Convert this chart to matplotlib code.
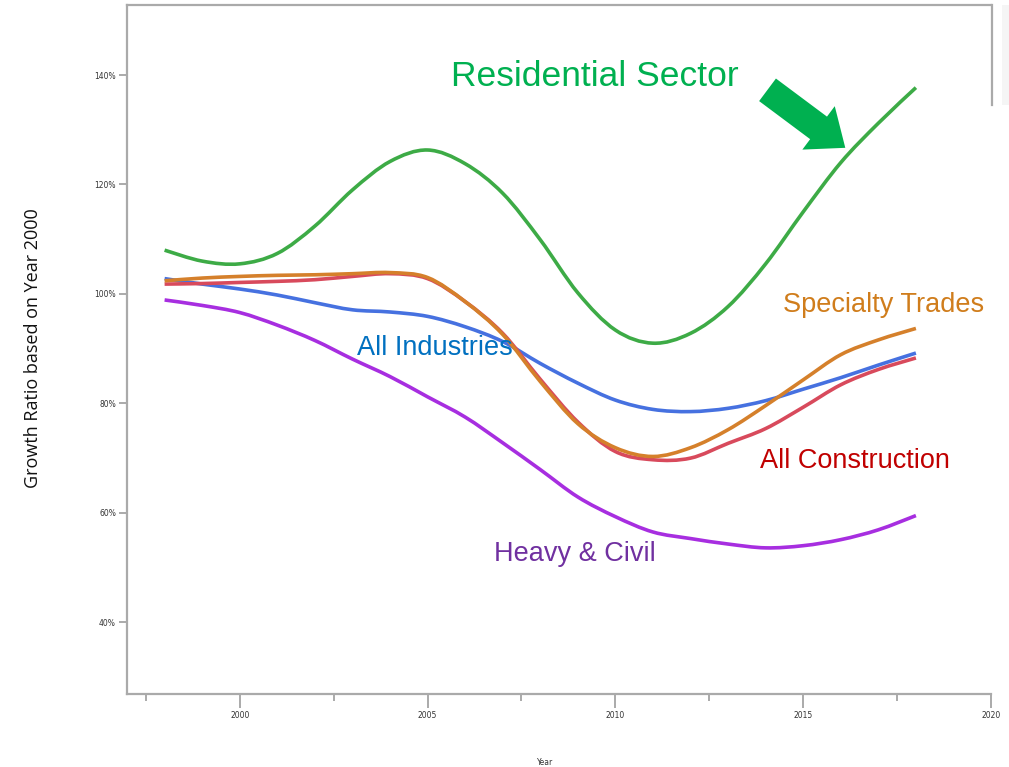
import matplotlib.pyplot as plt
from matplotlib.lines import Line2D
from matplotlib.patches import Rectangle, PathPatch
from matplotlib.path import Path
from matplotlib.ticker import MultipleLocator, FuncFormatter

years = list(range(1998, 2019))

residential = [108.0, 106.0, 105.5, 107.4, 112.4, 119.0, 124.2, 126.3, 123.8, 118.4, 109.9,
               100.2, 93.4, 91.0, 92.8, 97.7, 105.5, 115.0, 124.0, 131.2, 137.7]
specialty = [102.4, 102.9, 103.2, 103.4, 103.5, 103.7, 103.9, 103.0, 98.6, 92.6, 84.0,
             76.3, 71.9, 70.3, 71.9, 75.2, 79.6, 84.3, 88.9, 91.6, 93.7]
construction = [101.8, 101.9, 102.1, 102.3, 102.6, 103.2, 103.7, 102.8, 98.6, 92.8, 84.4,
                76.6, 71.2, 69.7, 70.0, 72.7, 75.4, 79.3, 83.4, 86.2, 88.3]
industries = [102.8, 101.8, 100.9, 99.8, 98.4, 97.1, 96.7, 95.9, 94.0, 91.3, 87.3,
              83.7, 80.6, 78.9, 78.5, 79.1, 80.5, 82.6, 84.7, 87.0, 89.2]
heavy_civil = [98.9, 97.9, 96.6, 94.3, 91.5, 88.1, 84.9, 81.2, 77.5, 72.8, 67.9,
               62.9, 59.3, 56.5, 55.3, 54.3, 53.6, 54.0, 55.1, 56.9, 59.5]


def smooth_line(ax, xs, ys, color):
    # cardinal-spline style path through every point, drawn as cubic beziers
    verts = [(xs[0], ys[0])]
    codes = [Path.MOVETO]
    n = len(xs)
    for i in range(n - 1):
        x0, y0 = xs[max(i - 1, 0)], ys[max(i - 1, 0)]
        x1, y1 = xs[i], ys[i]
        x2, y2 = xs[i + 1], ys[i + 1]
        x3, y3 = xs[min(i + 2, n - 1)], ys[min(i + 2, n - 1)]
        c1 = (x1 + (x2 - x0) / 6, y1 + (y2 - y0) / 6)
        c2 = (x2 - (x3 - x1) / 6, y2 - (y3 - y1) / 6)
        verts += [c1, c2, (x2, y2)]
        codes += [Path.CURVE4] * 3
    ax.add_patch(PathPatch(Path(verts, codes), fill=False, edgecolor=color,
                           lw=2.6, capstyle='butt'))


fig = plt.figure(figsize=(10.09, 7.67), dpi=100)
ax = fig.add_axes([0.1259, 0.0952, 0.8563, 0.8983])

smooth_line(ax, years, residential, '#3dab46')
smooth_line(ax, years, industries, '#4671e0')
smooth_line(ax, years, construction, '#d84a5c')
smooth_line(ax, years, specialty, '#d5802b')
smooth_line(ax, years, heavy_civil, '#a72ee0')

ax.set_xlim(1997, 2020)
ax.set_ylim(26.9, 152.8)

grey = '#aaaaaa'
for s in ['left', 'bottom', 'top']:
    ax.spines[s].set_color(grey)
    ax.spines[s].set_linewidth(1.6)
ax.spines['right'].set_visible(False)

ax.xaxis.set_major_locator(MultipleLocator(5))
ax.xaxis.set_minor_locator(MultipleLocator(2.5))
ax.yaxis.set_major_locator(MultipleLocator(20))
ax.yaxis.set_major_formatter(FuncFormatter(lambda v, p: '%d%%' % v))
ax.tick_params(axis='x', which='major', length=10, width=1.4, color=grey,
               labelsize=5.5, pad=2, labelcolor='#333333')
ax.tick_params(axis='x', which='minor', length=5, width=1.4, color=grey)
ax.tick_params(axis='y', length=6, width=1.4, color=grey, labelsize=5.5,
               pad=2, labelcolor='#333333')

fig.text(33 / 1009, 1 - 348 / 767, 'Growth Ratio based on Year 2000', fontsize=13,
         family='Open Sans', rotation=90, ha='center', va='center', color='#111111')
fig.text(545 / 1009, 0.0, 'Year', fontsize=5.5, color='#333333', ha='center', va='bottom')

# series labels
lbl = dict(family='Liberation Sans', ha='center', va='center')
ax.text(2009.44, 139.8, 'Residential Sector', color='#00b050', fontsize=25.5, **lbl)
ax.text(2017.13, 98.0, 'Specialty Trades', color='#d07d1c', fontsize=19.5, **lbl)
ax.text(2005.19, 90.1, 'All Industries', color='#0070c0', fontsize=19.5, **lbl)
ax.text(2016.38, 69.5, 'All Construction', color='#c00000', fontsize=19.5, **lbl)
ax.text(2008.91, 52.5, 'Heavy & Civil', color='#7030a0', fontsize=19.5, **lbl)

ax.annotate('', xy=(2016.12, 126.7), xytext=(2014.05, 137.3),
            arrowprops=dict(arrowstyle='simple,head_width=2.6,head_length=1.6,tail_width=1.35',
                            color='#00b050', lw=0, shrinkA=0, shrinkB=0,
                            mutation_scale=15))

# right edge of the frame and the clipped legend panel
fig.add_artist(Line2D([0.9831, 0.9831], [0.9935, 0.863], color=grey, lw=1.6))
fig.add_artist(Rectangle((0.9935, 0.863), 0.01, 0.131, color='#f5f5f5', lw=0))

fig.savefig('out.png', dpi=100)
